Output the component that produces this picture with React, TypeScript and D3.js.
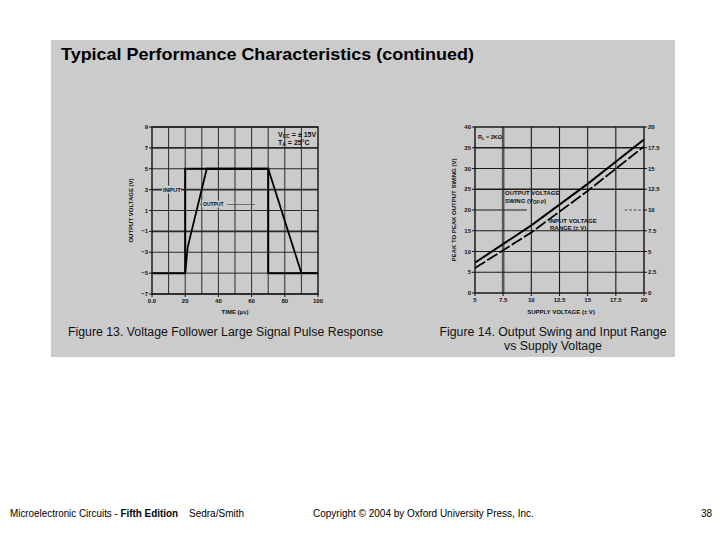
import React from "react";
import * as d3 from "d3";

// ---------- Figure 13 data ----------
const timeTicks = [0, 20, 40, 60, 80, 100];
const timeTickLabels = ["0.0", "20", "40", "60", "80", "100"];
const timeGrid = [10, 20, 30, 40, 50, 60, 70, 80, 90];
const voltTicks = [9, 7, 5, 3, 1, -1, -3, -5, -7];
const inputTime = [0, 20, 20, 70, 70, 100];
const inputVolt = [-5, -5, 5, 5, -5, -5];
const outputTime = [20, 21.5, 33, 70, 90, 100];
const outputVolt = [-5, -2.5, 5, 5, -5, -5];

// ---------- Figure 14 data ----------
const supplyTicks = [5, 7.5, 10, 12.5, 15, 17.5, 20];
const swingTicks = [0, 5, 10, 15, 20, 25, 30, 35, 40];
const rangeTicks = [0, 2.5, 5, 7.5, 10, 12.5, 15, 17.5, 20];
const supplyV = [5, 10, 15, 20];
const swingVpp = [7.3, 16.3, 26.3, 37.0];
const inputRangeX2 = [6.0, 14.6, 24.6, 35.3];

const SANS = "Arial, 'Liberation Sans', Helvetica, sans-serif";

export default function App() {
  const xL = d3.scaleLinear().domain([0, 100]).range([152, 318]);
  const yL = d3.scaleLinear().domain([-7, 9]).range([294, 127]);

  const xR = d3.scaleLinear().domain([5, 20]).range([475, 644]);
  const yR = d3.scaleLinear().domain([0, 40]).range([293, 127]);
  const yR2 = d3.scaleLinear().domain([0, 20]).range([293, 127]);

  const lineL = d3
    .line<number>()
    .x((_, i) => xL(inputTime[i]))
    .y((d) => yL(d));
  const lineOut = d3
    .line<number>()
    .x((_, i) => xL(outputTime[i]))
    .y((d) => yL(d));
  const lineSwing = d3
    .line<number>()
    .x((_, i) => xR(supplyV[i]))
    .y((d) => yR(d));

  const tick = { fontFamily: SANS, fontSize: 6, fontWeight: 700, fill: "#111" } as const;
  const lbl = { fontFamily: SANS, fontSize: 6, fontWeight: 700, fill: "#111" } as const;

  return (
    <svg width={720} height={540} style={{ position: "absolute", left: 0, top: 0, background: "#fff" }}>
      <rect x={0} y={0} width={720} height={540} fill="#fff" />
      <rect x={51} y={40} width={624} height={317} fill="#cbcbcb" />

      <text x={61} y={60} fontFamily={SANS} fontSize={16.5} fontWeight={700} fill="#000" textLength={413} lengthAdjust="spacingAndGlyphs">
        Typical Performance Characteristics (continued)
      </text>

      {/* ---------- Figure 13 ---------- */}
      <g>
        {timeGrid.map((t) => (
          <line key={"vg" + t} x1={xL(t)} x2={xL(t)} y1={yL(9)} y2={yL(-7)} stroke="#2a2a2a" strokeWidth={1} />
        ))}
        {voltTicks.map((v) => (
          <line key={"hg" + v} x1={xL(0)} x2={xL(100)} y1={yL(v)} y2={yL(v)} stroke="#2a2a2a" strokeWidth={v === 7 || v === 3 || v === -1 ? 1.6 : 1} />
        ))}
        <rect x={xL(0)} y={yL(9)} width={xL(100) - xL(0)} height={yL(-7) - yL(9)} fill="none" stroke="#111" strokeWidth={1.4} />
        {voltTicks.map((v) => (
          <g key={"yt" + v}>
            <line x1={xL(0) - 3} x2={xL(0)} y1={yL(v)} y2={yL(v)} stroke="#111" />
            <text x={xL(0) - 4} y={yL(v) + 2} textAnchor="end" style={tick}>
              {v < 0 ? "\u2212" + Math.abs(v) : String(v)}
            </text>
          </g>
        ))}
        {timeTicks.map((t, i) => (
          <g key={"xt" + t}>
            <line x1={xL(t)} x2={xL(t)} y1={yL(-7)} y2={yL(-7) + 3} stroke="#111" />
            <text x={xL(t)} y={yL(-7) + 9} textAnchor="middle" style={tick}>
              {timeTickLabels[i]}
            </text>
          </g>
        ))}
        <path d={lineL(inputVolt) || ""} fill="none" stroke="#000" strokeWidth={2} />
        <path d={lineOut(outputVolt) || ""} fill="none" stroke="#000" strokeWidth={1.8} />

        {/* INPUT label */}
        <rect x={162} y={yL(3) - 4} width={19} height={8} fill="#cbcbcb" />
        <text x={163} y={yL(3) + 2} style={lbl}>INPUT</text>
        {/* OUTPUT label */}
        <line x1={200} x2={255} y1={yL(1) - 6} y2={yL(1) - 6} stroke="#555" strokeWidth={0.8} />
        <rect x={202} y={yL(1) - 10} width={25} height={7} fill="#cbcbcb" />
        <text x={203} y={yL(1) - 4.5} style={{ ...lbl, fontSize: 5 }}>OUTPUT</text>

        <text x={278} y={137} style={{ ...lbl, fontSize: 7 }}>
          V<tspan fontSize={5} dy={1}>CC</tspan>
          <tspan dy={-1}> = ± 15V</tspan>
        </text>
        <text x={278} y={145} style={{ ...lbl, fontSize: 7 }}>
          T<tspan fontSize={5} dy={1}>A</tspan>
          <tspan dy={-1}> = 25°C</tspan>
        </text>

        <text transform={`translate(133, ${yL(1)}) rotate(-90)`} textAnchor="middle" style={lbl}>
          OUTPUT VOLTAGE (V)
        </text>
        <text x={xL(50)} y={314} textAnchor="middle" style={lbl}>
          TIME (µs)
        </text>
      </g>

      {/* ---------- Figure 14 ---------- */}
      <g>
        {supplyTicks.slice(1, -1).map((s) => (
          <line key={"rv" + s} x1={xR(s)} x2={xR(s)} y1={yR(40)} y2={yR(0)} stroke={s === 7.5 ? "#555" : "#1a1a1a"} strokeWidth={s === 7.5 ? 2.6 : 1.1} />
        ))}
        {swingTicks.slice(1, -1).map((s) =>
          s === 20 ? (
            <g key={"rh" + s}>
              <line x1={xR(5)} x2={xR(9.6)} y1={yR(s)} y2={yR(s)} stroke="#1a1a1a" strokeWidth={1.1} />
              <line x1={xR(18.3)} x2={xR(20)} y1={yR(s)} y2={yR(s)} stroke="#1a1a1a" strokeWidth={0.8} strokeDasharray="2.5,2" />
            </g>
          ) : (
            <line key={"rh" + s} x1={xR(5)} x2={xR(20)} y1={yR(s)} y2={yR(s)} stroke="#1a1a1a" strokeWidth={s === 25 || s === 35 ? 1.5 : 1.1} />
          )
        )}
        <rect x={xR(5)} y={yR(40)} width={xR(20) - xR(5)} height={yR(0) - yR(40)} fill="none" stroke="#111" strokeWidth={1.4} />
        {swingTicks.map((s) => (
          <g key={"rl" + s}>
            <line x1={xR(5) - 3} x2={xR(5)} y1={yR(s)} y2={yR(s)} stroke="#111" />
            <text x={xR(5) - 4} y={yR(s) + 2} textAnchor="end" style={tick}>
              {s}
            </text>
          </g>
        ))}
        {rangeTicks.map((s) => (
          <g key={"rr" + s}>
            <line x1={xR(20)} x2={xR(20) + 3} y1={yR2(s)} y2={yR2(s)} stroke="#111" />
            <text x={xR(20) + 4} y={yR2(s) + 2} textAnchor="start" style={tick}>
              {s}
            </text>
          </g>
        ))}
        {supplyTicks.map((s) => (
          <g key={"rx" + s}>
            <line x1={xR(s)} x2={xR(s)} y1={yR(0)} y2={yR(0) + 3} stroke="#111" />
            <text x={xR(s)} y={yR(0) + 9} textAnchor="middle" style={tick}>
              {s}
            </text>
          </g>
        ))}
        <path d={lineSwing(swingVpp) || ""} fill="none" stroke="#000" strokeWidth={2} />
        <path d={lineSwing(inputRangeX2) || ""} fill="none" stroke="#000" strokeWidth={1.8} strokeDasharray="12,2.5" />

        <text x={478} y={139} style={{ ...lbl, fontSize: 5.5 }}>
          R<tspan fontSize={4} dy={1}>L</tspan>
          <tspan dy={-1}> = 2KΩ</tspan>
        </text>
        <text x={505} y={195} style={{ ...lbl, fontSize: 6 }}>OUTPUT VOLTAGE</text>
        <text x={505} y={203} style={{ ...lbl, fontSize: 6 }}>
          SWING (V<tspan fontSize={4.5} dy={1}>OP-P</tspan>
          <tspan dy={-1}>)</tspan>
        </text>
        <text x={549} y={223} style={{ ...lbl, fontSize: 6 }}>INPUT VOLTAGE</text>
        <text x={550} y={230} style={{ ...lbl, fontSize: 6 }}>RANGE (± V)</text>

        <text transform={`translate(456, ${yR(20)}) rotate(-90)`} textAnchor="middle" style={lbl}>
          PEAK TO PEAK OUTPUT SWING (V)
        </text>
        <text x={561} y={314} textAnchor="middle" style={lbl}>
          SUPPLY VOLTAGE (± V)
        </text>
      </g>

      {/* captions */}
      <text x={68} y={336} fontFamily={SANS} fontSize={12.3} fill="#111">
        Figure 13. Voltage Follower Large Signal Pulse Response
      </text>
      <text x={553} y={336} textAnchor="middle" fontFamily={SANS} fontSize={12.3} fill="#111">
        Figure 14. Output Swing and Input Range
      </text>
      <text x={553} y={349.5} textAnchor="middle" fontFamily={SANS} fontSize={12.3} fill="#111">
        vs Supply Voltage
      </text>

      {/* footer */}
      <text x={10} y={517} fontFamily={SANS} fontSize={10} fill="#000" textLength={168} lengthAdjust="spacingAndGlyphs">
        Microelectronic Circuits - <tspan fontWeight={700}>Fifth Edition</tspan>
      </text>
      <text x={189} y={517} fontFamily={SANS} fontSize={10} fill="#000">
        Sedra/Smith
      </text>
      <text x={313} y={517} fontFamily={SANS} fontSize={10} fill="#000">
        Copyright © 2004 by Oxford University Press, Inc.
      </text>
      <text x={712} y={517} textAnchor="end" fontFamily={SANS} fontSize={10} fill="#000">
        38
      </text>
    </svg>
  );
}
